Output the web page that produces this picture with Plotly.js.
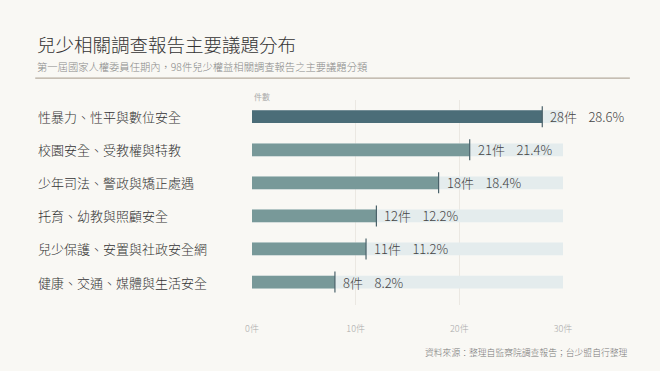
<!DOCTYPE html>
<html><head><meta charset="utf-8">
<script src="https://cdn.plot.ly/plotly-3.0.1.min.js"></script>
<style>html,body{margin:0;padding:0;background:#f9f8f4;}</style>
</head><body><div id="chart" style="width:660px;height:371px;"></div>
<script>
const categories = ["性暴力、性平與數位安全","校園安全、受教權與特教","少年司法、警政與矯正處遇","托育、幼教與照顧安全","兒少保護、安置與社政安全網","健康、交通、媒體與生活安全"];
const counts = [28, 21, 18, 12, 11, 8];
const percents = [28.6, 21.4, 18.4, 12.2, 11.2, 8.2];
const trackMax = [30, 30, 30, 30, 30, 30];
const tickVals = [0, 10, 20, 30];
const tickText = ["0件","10件","20件","30件"];

const FONT = '"Noto Sans CJK TC", "Noto Sans", sans-serif';
const idx = categories.map((c,i)=>i);
const barColors = counts.map((v,i)=> i===0 ? '#4b6d78' : '#789999');

const traces = [
  {type:'bar', orientation:'h', x:trackMax, y:idx, marker:{color:'#e4eced'}, width:0.385, hoverinfo:'skip'},
  {type:'bar', orientation:'h', x:counts, y:idx, marker:{color:barColors}, width:0.385, hoverinfo:'skip'},
  {type:'scatter', mode:'markers', x:counts, y:idx, marker:{symbol:'line-ns', size:15, line:{color:'#4a626a', width:1.2}}, hoverinfo:'skip', cliponaxis:false}
];

const annotations = [];
categories.forEach((c,i)=>{
  annotations.push({xref:'paper', yref:'y', x:-0.695, y:i, xanchor:'left', yanchor:'middle', text:c, showarrow:false, font:{family:FONT, size:13, color:'#333', weight:300}});
  annotations.push({xref:'x', yref:'y', x:counts[i], y:i, xanchor:'left', yanchor:'middle', xshift:6, text:counts[i]+'件\u00a0\u00a0\u00a0\u00a0'+percents[i].toFixed(1)+'%', showarrow:false, font:{family:FONT, size:13, color:'#444', weight:300}});
});
annotations.push({xref:'paper', yref:'paper', x:0, y:1, yshift:4, xanchor:'left', yanchor:'middle', text:'件數', showarrow:false, font:{family:FONT, size:8, color:'#aaa'}});
annotations.push({xref:'paper', yref:'paper', x:-0.697, y:1.275, xanchor:'left', yanchor:'middle', text:'兒少相關調查報告主要議題分布', showarrow:false, font:{family:FONT, size:18.5, color:'#333', weight:300}});
annotations.push({xref:'paper', yref:'paper', x:-0.697, y:1.165, xanchor:'left', yanchor:'middle', text:'第一屆國家人權委員任期內，98件兒少權益相關調查報告之主要議題分類', showarrow:false, font:{family:FONT, size:10.3, color:'#888', weight:300}});
annotations.push({xref:'paper', yref:'paper', x:1.215, y:-0.23, xanchor:'right', yanchor:'middle', text:'資料來源：整理自監察院調查報告；台少盟自行整理', showarrow:false, font:{family:FONT, size:8.8, color:'#777', weight:300}});

const layout = {
  width:660, height:371, autosize:false,
  paper_bgcolor:'#f9f8f4', plot_bgcolor:'#f9f8f4',
  margin:{l:252, r:97, t:100, b:66},
  barmode:'overlay', showlegend:false,
  font:{family:FONT},
  xaxis:{range:[0,30], tickvals:tickVals, ticktext:tickText, showgrid:true, gridcolor:'#ebe8e2', gridwidth:1, zeroline:false, showline:false, ticks:'', tickfont:{family:FONT, size:9, color:'#aaa', weight:300}, ticklabelstandoff:17, fixedrange:true},
  yaxis:{range:[5.695,-0.505], showticklabels:false, showgrid:false, zeroline:false, showline:false, ticks:'', fixedrange:true},
  shapes:[{type:'line', xref:'paper', yref:'paper', x0:-0.697, x1:1.215, y0:1.107, y1:1.107, line:{color:'#b5ab9e', width:1.2}}],
  annotations:annotations
};
Plotly.newPlot('chart', traces, layout, {displayModeBar:false, staticPlot:true});
</script></body></html>
